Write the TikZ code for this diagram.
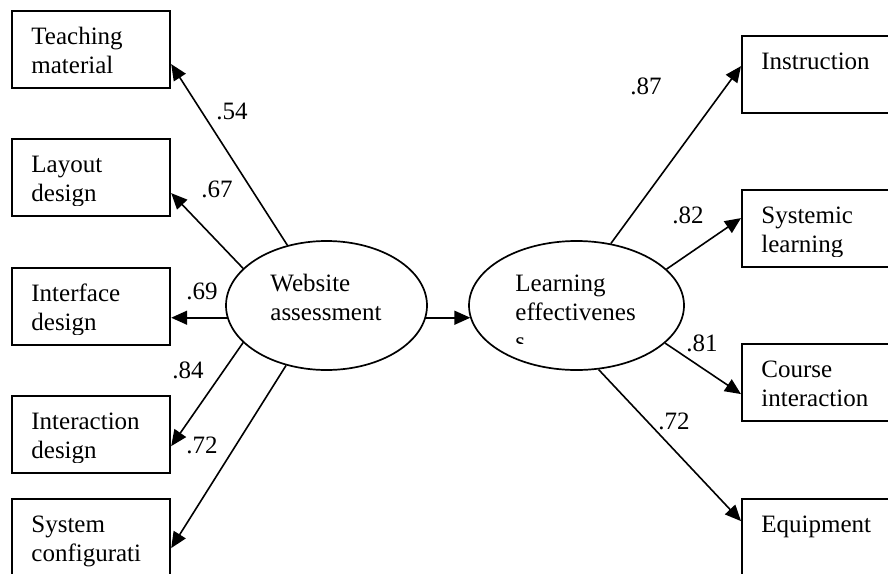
\documentclass[tikz,border=0pt]{standalone}
\usepackage{fontspec}
\setmainfont{Liberation Serif}
\usetikzlibrary{arrows.meta,shapes.geometric}
\tikzset{
  box/.style={draw, line width=1.1pt, anchor=north west, minimum width=79pt,
    minimum height=38.5pt, inner sep=0pt},
  latent/.style={draw, ellipse, line width=0.85pt, inner sep=0pt,
    minimum height=64.5pt},
  txt/.style={anchor=north west, inner sep=0pt, text width=70pt, align=left,
    text height=8.5pt, font=\fontsize{12.5}{14.5}\selectfont},
  coef/.style={inner sep=0pt, font=\fontsize{12.5}{14.5}\selectfont},
  load/.style={line width=0.8pt, -{Triangle[length=8pt,width=7pt]}}
}
\begin{document}
\begin{tikzpicture}[x=0.5pt,y=-0.5pt]
      \clip (0,0) rectangle (888,573);
      \node [box] (tm) at (11,10) {}; \node [box] (lyt) at (11,138) {};
      \node [box] (ifd) at (11,267) {}; \node [box] (ixd) at (11,395) {};
      \node [box] (sys) at (11,498) {}; \node [box] (ins) at (741,35) {};
      \node [box] (sml) at (741,189) {}; \node [box] (crs) at (741,343) {};
      \node [box] (eqp) at (741,498) {};
      \node [latent, minimum width=100.5pt] (web) at (326.5,305.5) {};
      \node [latent, minimum width=107.5pt] (lrn) at (576.5,305.5) {};
      \node [txt] (tmt) at (31,27.5) {Teaching\\material};
      \begin{scope} \clip (lyt.north west) rectangle ([yshift=5.75pt]lyt.south east);
        \node [txt] (lytt) at (31,155.5) {Layout\\design}; \end{scope}
      \begin{scope} \clip (ifd.north west) rectangle ([yshift=5.75pt]ifd.south east);
        \node [txt] (ifdt) at (31,284.5) {Interface\\design}; \end{scope}
      \begin{scope} \clip (ixd.north west) rectangle ([yshift=5.75pt]ixd.south east);
        \node [txt] (ixdt) at (31,412.5) {Interaction\\design}; \end{scope}
      \node [txt] (syst) at (31,515.5) {System\\configurati};
      \node [txt] (inst) at (761,52.5) {Instruction};
      \begin{scope} \clip (sml.north west) rectangle ([yshift=5.75pt]sml.south east);
        \node [txt] (smlt) at (761,206.5) {Systemic\\learning}; \end{scope}
      \node [txt] (crst) at (761,360.5) {Course\\interaction};
      \node [txt] (eqpt) at (761,515.5) {Equipment};
      \node [txt] (webt) at (270,274) {Website\\assessment};
      \begin{scope} \clip (469,241) rectangle (684,343.5);
        \node [txt] (lrnt) at (515,274) {Learning\\effectivenes\\s}; \end{scope}
      % loadings
      \draw [load] (web.123) -- ([yshift=-7.25pt]tm.east);
      \draw [load] (web.156) -- ([yshift=-7.75pt]lyt.east);
      \draw [load] (web.187) -- (web.187 -| ifd.east);
      \draw [load] (web.204) -- ([yshift=-5.75pt]ixd.east);
      \draw [load] (web.236) -- ([yshift=-5.25pt]sys.east);
      \draw [load] (web.353) -- (web.353 -| lrn.187);
      \draw [load] (lrn.61) -- ([yshift=4.25pt]ins.west);
      \draw [load] (lrn.22) -- ([yshift=5.25pt]sml.west);
      \draw [load] (lrn.337) -- ([yshift=-5.75pt]crs.west);
      \draw [load] (lrn.289) -- ([yshift=8.25pt]eqp.west);
      \node [coef] (c54) at (232,111.5) {.54}; \node [coef] (c67) at (217,189) {.67};
      \node [coef] (c69) at (202,291.5) {.69}; \node [coef] (c84) at (188,370) {.84};
      \node [coef] (c72a) at (202,445) {.72}; \node [coef] (c87) at (646,86) {.87};
      \node [coef] (c82) at (688,215.5) {.82}; \node [coef] (c81) at (702,343.5) {.81};
      \node [coef] (c72b) at (674,421.5) {.72};
    \end{tikzpicture}
\end{document}
